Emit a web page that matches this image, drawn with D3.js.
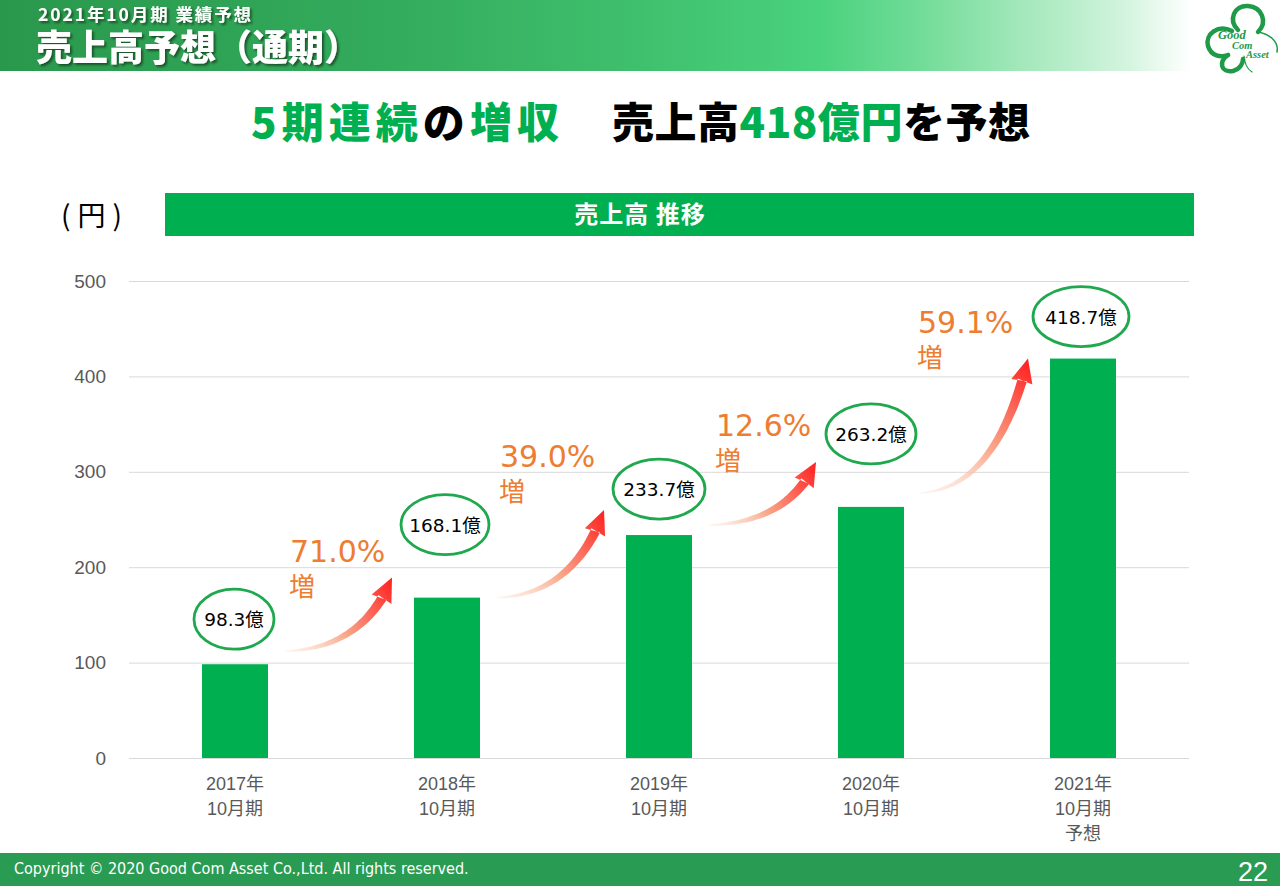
<!DOCTYPE html>
<html><head><meta charset="utf-8">
<script src="https://cdn.jsdelivr.net/npm/d3@7"></script>
<style>
html,body{margin:0;padding:0;background:#fff;}
svg{display:block;}
</style></head>
<body>
<svg id="chart" width="1280" height="886"></svg>
<script>
// ---- data ----
const categories = ["2017年10月期", "2018年10月期", "2019年10月期", "2020年10月期", "2021年10月期予想"];
const categoryLines = [["2017年","10月期"],["2018年","10月期"],["2019年","10月期"],["2020年","10月期"],["2021年","10月期","予想"]];
const sales = [98.3, 168.1, 233.7, 263.2, 418.7];
const salesLabels = ["98.3億", "168.1億", "233.7億", "263.2億", "418.7億"];
const growthLabels = ["71.0%", "39.0%", "12.6%", "59.1%"];
const yTicks = [0, 100, 200, 300, 400, 500];

// ---- annotation layout (offsets in px from data positions) ----
const bubbleDy = [-45, -73, -46, -73, -42];
const bubbleDx = [-1, -2, 0, 0, -2];
const bubbleRx = [40, 44, 46, 45, 48];
const arrowTailDy = [-13, 0, -10, -14];
const arrowTipDy = [-20, -25, -45, 0];
const growthDx = [5, 3, 7, -3];
const growthDy = [-16, -43, -26, -26];

const svg = d3.select("#chart");
const defs = svg.append("defs");
const W = 1280;

// header gradient
const hg = defs.append("linearGradient").attr("id","hdr").attr("x1",0).attr("x2",1).attr("y1",0).attr("y2",0);
[[0,"#2a984c"],[0.3,"#33ab5c"],[0.5,"#3fc06d"],[0.64,"#4ad27e"],[0.72,"#72dc98"],[0.8,"#a4e8bb"],[0.88,"#d3f4de"],[0.93,"#ffffff"]]
  .forEach(s => hg.append("stop").attr("offset", s[0]).attr("stop-color", s[1]));
svg.append("rect").attr("x",0).attr("y",0).attr("width",W).attr("height",71).attr("fill","url(#hdr)");

const sh = defs.append("filter").attr("id","shadow").attr("x","-5%").attr("y","-20%").attr("width","110%").attr("height","150%");
sh.append("feDropShadow").attr("dx",2).attr("dy",2).attr("stdDeviation",1.2).attr("flood-color","#0d3a1c").attr("flood-opacity",0.75);

const cjk = "'Noto Sans CJK JP', 'Noto Sans CJK SC', sans-serif";
svg.append("text").attr("x",38).attr("y",21).attr("fill","#fff").attr("font-family",cjk)
  .attr("font-weight",700).attr("font-size",17.5).attr("letter-spacing",1.9).attr("filter","url(#shadow)").text("2021年10月期 業績予想");
svg.append("text").attr("x",36).attr("y",61).attr("fill","#fff").attr("font-family",cjk)
  .attr("font-weight",900).attr("font-size",36).attr("filter","url(#shadow)").text("売上高予想（通期）");

// logo
const logo = svg.append("g").attr("fill","none").attr("stroke","#1e9a48").attr("stroke-linecap","round");
logo.append("path").attr("stroke-width",4.5)
  .attr("d","M1238 30 C1228 20,1234 5,1248 6 C1262 7,1268 22,1258 32");
logo.append("path").attr("stroke-width",4.5)
  .attr("d","M1232 31 C1218 24,1205 34,1208 46 C1211 56,1221 58,1228 55");
logo.append("path").attr("stroke-width",4.5)
  .attr("d","M1228 55 C1218 62,1221 73,1233 71 C1241 69,1243 62,1243 59");
logo.append("path").attr("stroke-width",1.5)
  .attr("d","M1258 32 C1270 34,1279 42,1277 52");
logo.append("path").attr("stroke-width",1.2)
  .attr("d","M1244 56 C1245 63,1246 68,1252 72");
const logoText = [["Good",1218,39,12.5],["Com",1232,49,10.5],["Asset",1246,58,10.5]];
logoText.forEach(t => svg.append("text").attr("x",t[1]).attr("y",t[2]).attr("font-family","'Liberation Serif', serif")
  .attr("font-style","italic").attr("font-weight",700).attr("font-size",t[3]).attr("fill","#1e9a48").text(t[0]));

// headline
const green = "#00b050";
const hl1 = svg.append("text").attr("x",251).attr("y",138).attr("font-family",cjk).attr("font-weight",900)
  .attr("font-size",42).attr("textLength",308).attr("lengthAdjust","spacing");
hl1.append("tspan").attr("fill",green).text("5期連続");
hl1.append("tspan").attr("fill","#000").text("の");
hl1.append("tspan").attr("fill",green).text("増収");
const hl2 = svg.append("text").attr("x",612).attr("y",138).attr("font-family",cjk).attr("font-weight",900)
  .attr("font-size",42).attr("textLength",418).attr("lengthAdjust","spacing");
hl2.append("tspan").attr("fill","#000").text("売上高");
hl2.append("tspan").attr("fill",green).text("418億円");
hl2.append("tspan").attr("fill","#000").text("を予想");

// unit label and title bar
svg.append("text").attr("x",61).attr("y",226).attr("font-family",cjk).attr("font-size",28)
  .attr("letter-spacing",7).attr("fill","#000").text("(円)");
svg.append("rect").attr("x",165).attr("y",193).attr("width",1029).attr("height",43).attr("fill",green);
svg.append("text").attr("x",640).attr("y",223).attr("text-anchor","middle").attr("font-family",cjk)
  .attr("font-weight",700).attr("font-size",24).attr("letter-spacing",1).attr("fill","#fff").text("売上高 推移");

// scales
const x = d3.scaleBand().domain(categories).range([129, 1189]).padding(0);
const barW = 66;
const y = d3.scaleLinear().domain([0, 500]).range([758, 281]);
const xc = c => x(c) + x.bandwidth() / 2;

// grid + y axis
const yAxis = d3.axisLeft(y).tickValues(yTicks).tickSize(-(1189 - 129)).tickPadding(23).tickFormat(d3.format("d"));
const ga = svg.append("g").attr("transform","translate(129,0)").call(yAxis);
ga.select(".domain").remove();
ga.selectAll(".tick line").attr("stroke","#d9d9d9").attr("stroke-width",1);
ga.selectAll(".tick text").attr("font-family","'Liberation Sans', Arial, sans-serif").attr("font-size",19).attr("fill","#595959");

// bars
svg.append("g").selectAll("rect").data(sales).join("rect")
  .attr("x",(d,i) => xc(categories[i]) - barW/2)
  .attr("y",d => y(d))
  .attr("width",barW)
  .attr("height",d => y(0) - y(d))
  .attr("fill",green);

// x labels
const xl = svg.append("g");
categoryLines.forEach((lines,i) => {
  lines.forEach((ln,j) => {
    xl.append("text").attr("x",xc(categories[i])).attr("y",790 + j*25).attr("text-anchor","middle")
      .attr("font-family","'Liberation Sans', Arial, 'Noto Sans CJK JP', sans-serif").attr("font-size",18)
      .attr("fill","#595959").text(ln);
  });
});

// bubbles
const bub = svg.append("g");
sales.forEach((v,i) => {
  const cx = xc(categories[i]) + bubbleDx[i], cy = y(v) + bubbleDy[i];
  bub.append("ellipse").attr("cx",cx).attr("cy",cy).attr("rx",bubbleRx[i]).attr("ry",30)
    .attr("fill","#fff").attr("stroke","#1fa84d").attr("stroke-width",2.8);
  bub.append("text").attr("x",cx).attr("y",cy + 7).attr("text-anchor","middle")
    .attr("font-family","'DejaVu Sans', 'Noto Sans CJK JP', sans-serif").attr("font-size",18.5)
    .attr("fill","#000").text(salesLabels[i]);
});

// arrows
function arrowPath(t, h) {
  const dx = h[0] - t[0], dy = h[1] - t[1];
  const headLen = 22, headHalf = 11.5;
  const c = [t[0] + 0.68 * dx, t[1] + 0.04 * dy];
  let ex = h[0] - c[0], ey = h[1] - c[1];
  const el = Math.hypot(ex, ey); ex /= el; ey /= el;
  const b = [h[0] - ex * headLen, h[1] - ey * headLen];
  const cc = [t[0] + 0.68 * (b[0] - t[0]), t[1] + 0.04 * (b[1] - t[1])];
  const N = 40, left = [], right = [];
  for (let k = 0; k <= N; k++) {
    const s = k / N;
    const px = (1-s)*(1-s)*t[0] + 2*(1-s)*s*cc[0] + s*s*b[0];
    const py = (1-s)*(1-s)*t[1] + 2*(1-s)*s*cc[1] + s*s*b[1];
    let tx = 2*(1-s)*(cc[0]-t[0]) + 2*s*(b[0]-cc[0]);
    let ty = 2*(1-s)*(cc[1]-t[1]) + 2*s*(b[1]-cc[1]);
    const tl = Math.hypot(tx, ty); tx /= tl; ty /= tl;
    const w = 0.6 + 4.2 * Math.pow(s, 0.8);
    left.push([px - ty * w, py + tx * w]);
    right.push([px + ty * w, py - tx * w]);
  }
  const nx = -ey, ny = ex;
  const pts = left.concat([[b[0] - nx*headHalf*0.95 - ex*2, b[1] - ny*headHalf*0.95 - ey*2], h, [b[0] + nx*headHalf*0.95 - ex*2, b[1] + ny*headHalf*0.95 - ey*2]]).concat(right.reverse());
  return "M" + pts.map(p => p[0].toFixed(1) + "," + p[1].toFixed(1)).join("L") + "Z";
}
const ar = svg.append("g");
for (let i = 0; i < sales.length - 1; i++) {
  const tail = [xc(categories[i]) + 50, y(sales[i]) + arrowTailDy[i]];
  const tip = [xc(categories[i+1]) - 55, y(sales[i+1]) + arrowTipDy[i]];
  const gid = "ag" + i;
  const g = defs.append("linearGradient").attr("id",gid).attr("gradientUnits","userSpaceOnUse")
    .attr("x1",tail[0]).attr("y1",tail[1]).attr("x2",tip[0]).attr("y2",tip[1]);
  g.append("stop").attr("offset",0).attr("stop-color","#fde6da").attr("stop-opacity",0.4);
  g.append("stop").attr("offset",0.45).attr("stop-color","#f9a98c");
  g.append("stop").attr("offset",1).attr("stop-color","#ff1f1f");
  ar.append("path").attr("d",arrowPath(tail, tip)).attr("fill","url(#" + gid + ")");
  const gx = tail[0] + growthDx[i], gy = tip[1] + growthDy[i];
  ar.append("text").attr("x",gx).attr("y",gy).attr("font-family","'DejaVu Sans', sans-serif")
    .attr("font-size",30).attr("fill","#ed7d31").text(growthLabels[i]);
  ar.append("text").attr("x",gx - 1).attr("y",gy + 34).attr("font-family",cjk)
    .attr("font-size",26).attr("fill","#ed7d31").text("増");
}

// footer
svg.append("rect").attr("x",0).attr("y",853).attr("width",W).attr("height",33).attr("fill","#2a9b52");
svg.append("text").attr("x",14).attr("y",874).attr("font-family","'DejaVu Sans Condensed', 'Liberation Sans', sans-serif")
  .attr("font-size",16).attr("fill","#fff").text("Copyright © 2020 Good Com Asset Co.,Ltd. All rights reserved.");
svg.append("text").attr("x",1268).attr("y",881).attr("text-anchor","end").attr("font-family","'Liberation Sans', Arial, sans-serif")
  .attr("font-size",27).attr("fill","#fff").text("22");
</script>
</body></html>
